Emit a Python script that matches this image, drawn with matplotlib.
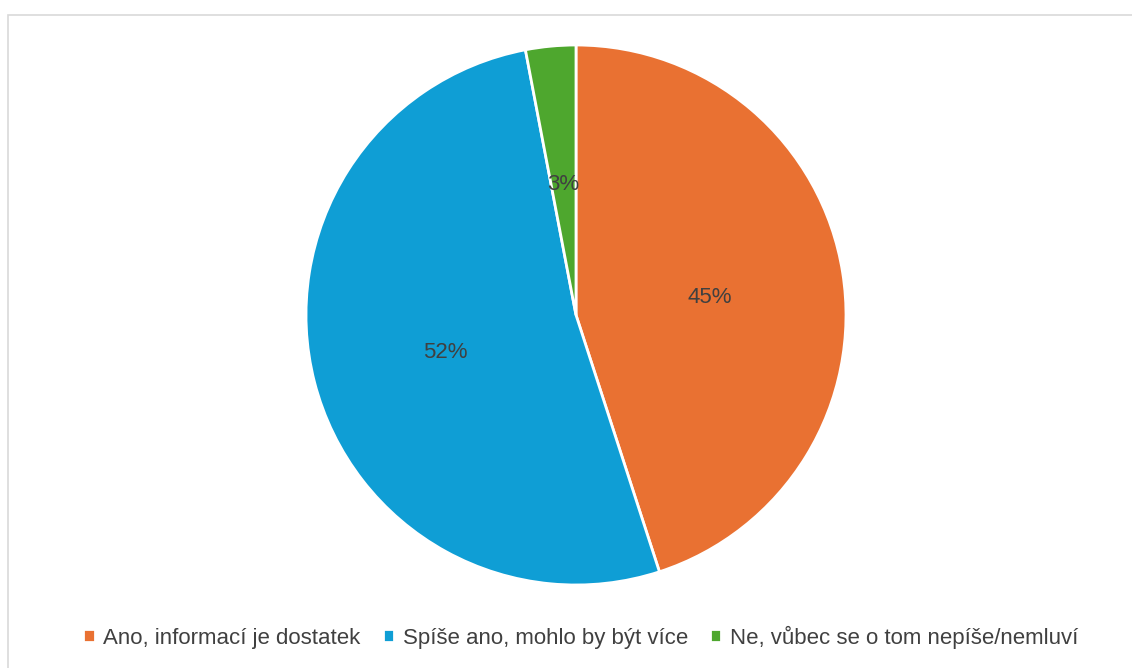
import matplotlib.pyplot as plt
from matplotlib.patches import Rectangle

labels = ["Ano, informací je dostatek", "Spíše ano, mohlo by být více", "Ne, vůbec se o tom nepíše/nemluví"]
values = [45, 52, 3]
colors = ["#E97132", "#0F9ED5", "#4EA72E"]

plt.rcParams['font.family'] = ['Liberation Sans', 'DejaVu Sans']

W, H = 1132, 668
fig = plt.figure(figsize=(W / 100, H / 100), dpi=100)

# chart area frame
fig.patches.append(Rectangle((8 / W, -0.1), 1.2, (H - 15) / H + 0.1, transform=fig.transFigure,
                             fill=False, edgecolor="#D9D9D9", linewidth=1.2))

cx, cy, r = 576, H - 315, 270
ax = fig.add_axes([(cx - r) / W, (cy - r) / H, 2 * r / W, 2 * r / H])

wedges, texts, autotexts = ax.pie(values, colors=colors, startangle=90, counterclock=False,
                                  autopct=lambda p: f"{p:.0f}%", pctdistance=0.5,
                                  wedgeprops=dict(edgecolor="white", linewidth=2),
                                  textprops=dict(color="#404040", fontsize=16))
for w in wedges:
    w.set_clip_on(False)
for t in autotexts:
    t.set_y(t.get_position()[1] - 0.015)
ax.set_xlim(-1, 1)
ax.set_ylim(-1, 1)
ax.set_aspect("equal")
ax.axis("off")

fig.legend(wedges, labels, loc="center", bbox_to_anchor=(581 / W, 1 - 637 / H), ncol=3,
           frameon=False, fontsize=16, labelcolor="#404040", handlelength=0.5, handleheight=0.5,
           handletextpad=0.4, columnspacing=1.0)

fig.savefig("out.png", dpi=100)
